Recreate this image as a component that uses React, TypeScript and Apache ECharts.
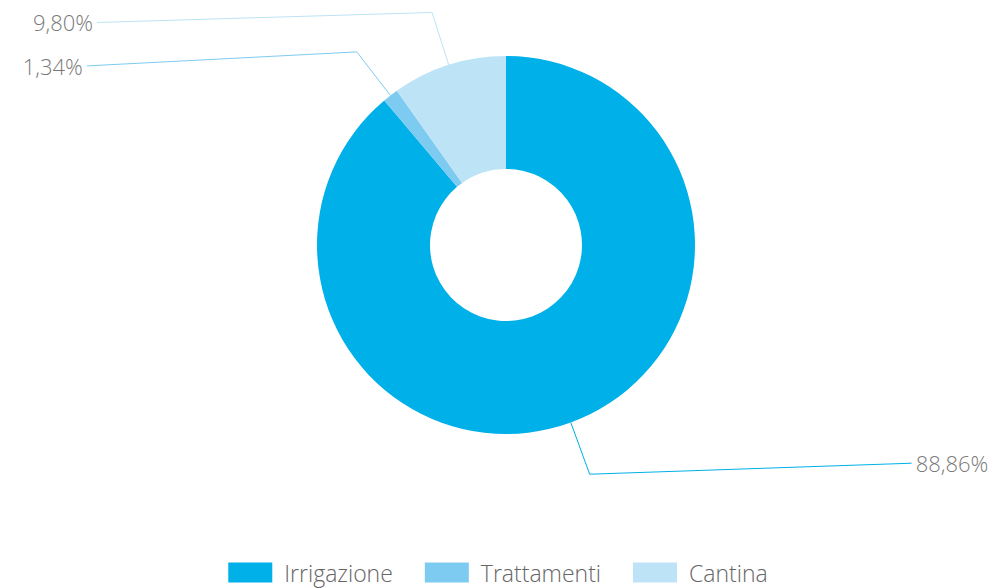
import React, { useEffect, useRef } from "react";
import * as echarts from "echarts";

const categories = ["Irrigazione", "Trattamenti", "Cantina"];
const values = [88.86, 1.34, 9.8];
const colors = ["#00b0e8", "#7ecbf1", "#bde3f6"];
const lineLength2 = [322, 270, 335];
const labelShift = [-11, 14, 10];

export default function App() {
  const ref = useRef<HTMLDivElement>(null);
  useEffect(() => {
    const chart = echarts.init(ref.current!, undefined, { renderer: "svg" });
    const data = categories.map((name, i) => ({
      name,
      value: values[i],
      itemStyle: { color: colors[i] },
      labelLine: { length2: lineLength2[i], lineStyle: { color: colors[i] } },
    }));
    chart.setOption({
      animation: false,
      backgroundColor: "#ffffff",
      legend: {
        top: 556,
        left: "center",
        itemWidth: 44,
        itemHeight: 20,
        itemGap: 32,
        icon: "rect",
        textStyle: {
          fontFamily: "Open Sans",
          fontSize: 23,
          fontWeight: 300,
          color: "#666666",
          padding: [0, 0, 0, 7],
        },
        data: categories,
      },
      series: [
        {
          type: "pie",
          center: [506, 245],
          radius: [76, 189],
          startAngle: 90,
          clockwise: true,
          bleedMargin: 0,
          avoidLabelOverlap: false,
          label: {
            show: true,
            formatter: (p: any) => p.value.toFixed(2).replace(".", ",") + "%",
            fontFamily: "Open Sans",
            fontSize: 22,
            fontWeight: 300,
            color: "#7a7a7a",
            distanceToLabelLine: 4,
          },
          labelLine: { show: true, length: 55, lineStyle: { width: 1 } },
          labelLayout: (params: any) => {
            const pts = params.labelLinePoints;
            if (!pts) return {};
            const dy = labelShift[params.dataIndex] || 0;
            const ny = pts[1][1] + dy;
            return {
              y: ny,
              labelLinePoints: [pts[0], pts[1], [pts[2][0], ny]],
            };
          },
          emphasis: { disabled: true },
          data,
        },
      ],
    });
    return () => chart.dispose();
  }, []);
  return (
    <div
      ref={ref}
      style={{ position: "absolute", left: 0, top: 0, width: 996, height: 588 }}
    />
  );
}
